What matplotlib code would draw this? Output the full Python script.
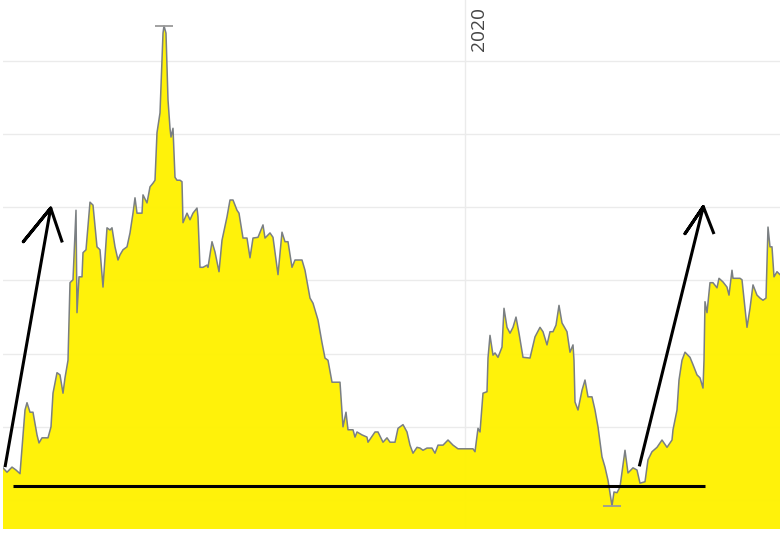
import matplotlib
matplotlib.use("Agg")
import matplotlib.pyplot as plt
import numpy as np
import pandas as pd

# days since series start and value (gridlines at 10..70)
start = pd.Timestamp("2018-09-26")
day = [0, 4, 9, 13, 17, 22, 24, 27, 30, 34, 36, 39, 45, 48, 50, 54, 57, 60, 62, 65,
       67, 70, 73, 74, 76, 79, 80, 83, 87, 90, 94, 97, 100, 104, 107, 109, 112, 115, 117, 120,
       124, 127, 130, 132, 134, 139, 140, 144, 147, 150, 152, 154, 157, 160, 161, 163, 165, 167, 168, 170,
       172, 174, 177, 179, 180, 184, 187, 190, 194, 195, 197, 200, 204, 205, 209, 212, 216, 219, 224, 227,
       230, 234, 236, 240, 244, 247, 250, 255, 260, 262, 267, 270, 275, 279, 282, 285, 289, 292, 299, 302,
       307, 310, 315, 319, 322, 325, 329, 337, 340, 343, 345, 350, 352, 354, 359, 364, 365, 372, 375, 380,
       384, 387, 392, 395, 400, 404, 407, 410, 414, 417, 420, 424, 429, 432, 435, 440, 445, 450, 455, 470,
       472, 475, 477, 480, 484, 485, 487, 490, 492, 495, 499, 501, 504, 507, 510, 513, 516, 520, 527, 532,
       537, 540, 544, 547, 550, 553, 556, 559, 564, 567, 570, 571, 572, 575, 579, 582, 585, 589, 592, 595,
       599, 602, 605, 609, 611, 614, 617, 622, 625, 630, 634, 637, 642, 645, 649, 654, 659, 664, 669, 670,
       674, 676, 679, 682, 687, 690, 694, 697, 700, 701, 702, 704, 707, 710, 714, 716, 720, 724, 726, 729,
       730, 737, 739, 744, 747, 750, 754, 757, 760, 763, 765, 767, 769, 771, 774, 777]
value = [14.4, 13.8, 14.5, 14.1, 13.6, 22.3, 23.3, 22.0, 22.0, 18.9, 17.8, 18.5, 18.5, 20.0, 24.6, 27.4, 27.1, 24.6, 26.7, 29.1,
         39.7, 40.1, 49.6, 35.6, 40.5, 40.5, 43.8, 44.2, 50.7, 50.3, 44.6, 44.2, 39.1, 47.2, 46.9, 47.2, 44.6, 42.8, 43.5, 44.2,
         44.6, 46.5, 49.2, 51.3, 49.2, 49.2, 51.7, 50.6, 52.8, 53.3, 53.7, 60.2, 62.9, 73.8, 74.8, 73.8, 64.7, 60.8, 59.6, 60.8,
         54.1, 53.7, 53.7, 53.5, 47.9, 49.2, 48.3, 49.2, 49.9, 48.7, 41.8, 41.8, 42.1, 41.8, 45.3, 43.9, 41.2, 45.5, 48.7, 51.0,
         51.0, 49.6, 49.2, 45.8, 45.8, 43.1, 45.8, 45.9, 47.6, 45.8, 46.5, 45.9, 40.8, 46.6, 45.3, 45.3, 41.8, 42.8, 42.8, 41.4,
         37.6, 36.9, 34.6, 31.5, 29.4, 29.1, 26.1, 26.1, 20.0, 22.0, 19.6, 19.6, 18.6, 19.3, 18.9, 18.6, 17.9, 19.3, 19.3, 17.9,
         18.5, 17.9, 17.9, 19.8, 20.3, 19.3, 17.5, 16.4, 17.2, 17.1, 16.8, 17.1, 17.1, 16.4, 17.5, 17.5, 18.2, 17.5, 17.0, 17.0,
         16.6, 19.8, 19.3, 24.6, 24.8, 29.4, 32.5, 29.8, 30.1, 29.5, 30.9, 36.2, 33.6, 32.8, 33.6, 35.0, 32.8, 29.5, 29.4, 32.3,
         33.6, 33.0, 31.2, 33.0, 33.0, 33.9, 36.6, 34.2, 33.0, 30.2, 31.2, 29.1, 23.4, 22.3, 25.0, 26.4, 24.1, 24.1, 22.3, 20.0,
         15.9, 14.5, 12.7, 9.2, 11.1, 11.0, 11.8, 16.8, 13.7, 14.4, 14.1, 12.3, 12.5, 15.5, 16.6, 17.2, 18.2, 17.2, 18.2, 19.6,
         22.3, 26.4, 29.1, 30.2, 29.5, 28.5, 27.1, 26.7, 25.3, 29.1, 37.1, 35.6, 39.7, 39.7, 39.0, 40.3, 39.8, 39.1, 38.0, 41.4,
         40.3, 40.3, 40.1, 33.6, 36.2, 39.4, 38.0, 37.6, 37.3, 37.6, 47.3, 44.6, 44.6, 40.5, 41.2, 40.8]

# hand-drawn annotations (day, value)
arrow1_day = [2, 47.7, 20.3, 47.7, 59.3]
arrow1_val = [14.5, 49.9, 45.3, 49.9, 45.2]
arrow2_day = [636.3, 700.3, 682, 700.3, 711]
arrow2_val = [14.6, 50.1, 46.4, 50.1, 46.35]
base_day = [9.7, 702]
base_val = [11.95, 11.95]

grid_vals = [10, 20, 30, 40, 50, 60, 70]
year_tick = pd.Timestamp("2020-01-01")

dates = start + pd.to_timedelta(day, unit="D")
vals = np.array(value)

fig = plt.figure(figsize=(7.82, 5.33), dpi=100)
ax = fig.add_axes([3 / 782, 4 / 533, 777 / 782, 529 / 533])

ax.fill_between(dates, vals, 0, color="#fff200", alpha=0.96, lw=0, zorder=2)
ax.plot(dates, vals, color="#7a7f83", lw=1.1, zorder=3)

imax, imin = vals.argmax(), vals.argmin()
ax.plot([dates[imax], dates[imin]], [vals[imax], vals[imin]], ls="none", marker="_",
        ms=13, mew=1.3, color="#9a9a9a", zorder=4)

def ad(d):
    return start + pd.to_timedelta(d, unit="D")

for dd, vv in [(arrow1_day, arrow1_val), (arrow2_day, arrow2_val), (base_day, base_val)]:
    ax.plot(ad(dd), vv, color="black", lw=2.2, solid_capstyle="butt", zorder=5)

ax.set_xlim(start, start + pd.Timedelta(days=777))
ax.set_ylim(6.04, 78.33)
ax.set_yticks(grid_vals)
ax.set_xticks([year_tick])
ax.grid(True, color="#ebebeb", lw=1, zorder=0)
ax.set_axisbelow(True)
ax.tick_params(length=0, labelleft=False, labelbottom=False)
for s in ax.spines.values():
    s.set_visible(False)

ax.annotate("2020", xy=(year_tick, 1), xycoords=("data", "axes fraction"),
            xytext=(14, -7), textcoords="offset pixels", rotation=90,
            ha="center", va="top", fontsize=13.8, color="#444444", family="Open Sans")

fig.savefig("out.png", dpi=100)
